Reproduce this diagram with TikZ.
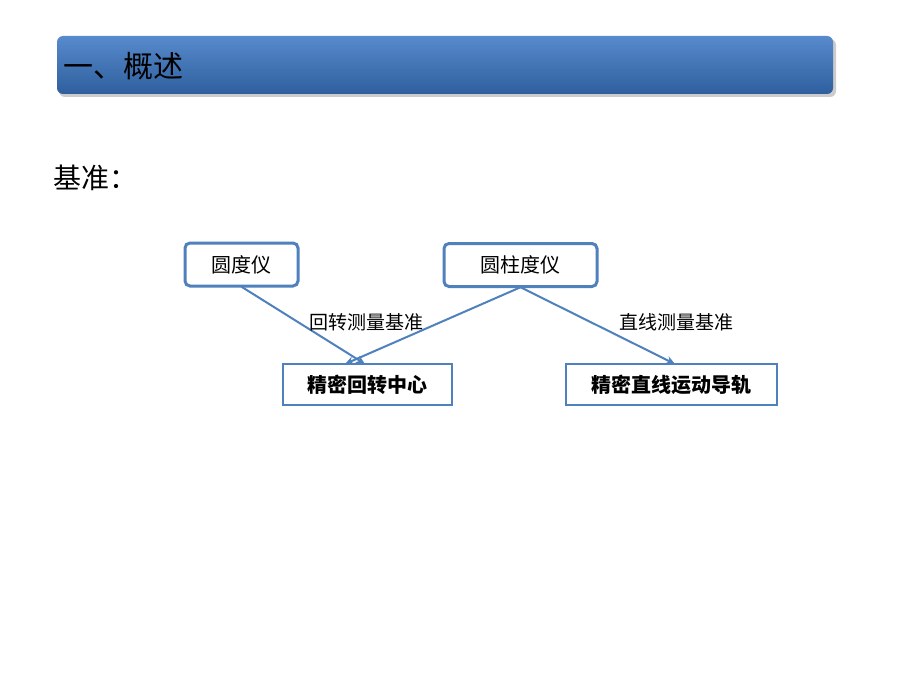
\documentclass[tikz,border=0pt]{standalone}
\usepackage{fontspec}
\newfontfamily\cjk{Noto Sans CJK SC}
\usetikzlibrary{arrows.meta,shadows}
\definecolor{barblue}{RGB}{58,118,196}
\definecolor{edgeblue}{RGB}{79,129,189}
\definecolor{glow}{RGB}{180,205,235}
\tikzset{
 rbox/.style={draw=edgeblue,line width=1.5pt,rounded corners=5pt,fill=white,minimum height=43pt,font=\cjk\fontsize{20}{22}\selectfont,double=glow,double distance=0pt},
 sbox/.style={draw=edgeblue,line width=2pt,fill=white,minimum height=41pt,font=\cjk\bfseries\fontsize{20}{22}\selectfont},
 conn/.style={draw=edgeblue,line width=2pt,-{Stealth[length=9pt,width=8pt]}},
 lbl/.style={font=\cjk\fontsize{19}{21}\selectfont}
}
\begin{document}
\begin{tikzpicture}[x=1pt,y=-1pt]
\useasboundingbox (0,0) rectangle (920,690);
\fill[white] (0,0) rectangle (920,690);
\fill[gray!40,rounded corners=6pt] (59,39) rectangle (836,97);
\shade[top color=barblue!85!white,bottom color=barblue!80!black,rounded corners=6pt] (57,36) rectangle (833,94);
\node[font=\cjk\fontsize{30}{32}\selectfont,anchor=west] (title) at (60,66) {一、概述};
\node[font=\cjk\fontsize{28}{30}\selectfont,anchor=west] (jz) at (50,178) {基准：};
\node[rbox,minimum width=113pt] (a) at (241.5,264.5) {圆度仪};
\node[rbox,minimum width=153pt] (b) at (520.5,265) {圆柱度仪};
\node[sbox,minimum width=169pt] (c) at (367.5,384.5) {精密回转中心};
\node[sbox,minimum width=211pt] (d) at (671.5,384.5) {精密直线运动导轨};
\coordinate (ct1) at (365,364);
\coordinate (ct2) at (345,364);
\coordinate (dt) at (675,364);
\draw[conn] (a.south) -- (ct1);
\draw[conn] (b.south) -- (ct2);
\draw[conn] (b.south) -- (dt);
\node[lbl] (l1) at (366,322) {回转测量基准};
\node[lbl] (l2) at (676,322) {直线测量基准};
\end{tikzpicture}
\end{document}
